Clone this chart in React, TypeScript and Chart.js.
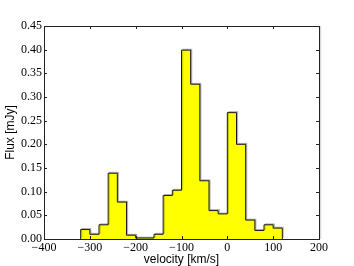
import React, { useEffect, useRef } from "react";
import { Chart, registerables } from "chart.js";

Chart.register(...registerables);

// Histogram bins (left edges, km/s) and flux per bin (mJy)
const binStart = -320;
const binWidth = 20;
const flux = [
  0.020, 0.010, 0.030, 0.139, 0.078, 0.008, 0.002, 0.002, 0.010, 0.092, 0.103,
  0.399, 0.327, 0.123, 0.060, 0.053, 0.267, 0.200, 0.040, 0.018, 0.030, 0.023,
];
const xTicks = [-400, -300, -200, -100, 0, 100, 200];
const yTicks = [0, 0.05, 0.1, 0.15, 0.2, 0.25, 0.3, 0.35, 0.4, 0.45];

const TICK_FONT = "Liberation Serif";
const LABEL_FONT = "Liberation Sans";

const framePlugin = {
  id: "frameTicks",
  beforeDatasetsDraw(chart: any) {
    const ctx = chart.ctx;
    ctx.save();
    ctx.shadowColor = "rgba(0,0,0,0.22)";
    ctx.shadowOffsetX = 1.2;
    ctx.shadowOffsetY = -1;
    ctx.shadowBlur = 0;
  },
  afterDatasetsDraw(chart: any) {
    chart.ctx.restore();
  },
  afterDraw(chart: any) {
    const { ctx, chartArea } = chart;
    const { left, right, top, bottom } = chartArea;
    const xs = chart.scales.x;
    const ys = chart.scales.y;
    ctx.save();
    // frame shadow
    ctx.strokeStyle = "rgba(0,0,0,0.15)";
    ctx.lineWidth = 1.5;
    ctx.beginPath();
    ctx.moveTo(right + 1.5, top);
    ctx.lineTo(right + 1.5, bottom);
    ctx.stroke();
    ctx.strokeStyle = "#222";
    ctx.lineWidth = 1;
    ctx.strokeRect(Math.round(left) + 0.5, Math.round(top) + 0.5, Math.round(right - left), Math.round(bottom - top));
    const L = 3;
    ctx.beginPath();
    for (const v of xTicks) {
      const px = Math.round(xs.getPixelForValue(v)) + 0.5;
      ctx.moveTo(px, bottom);
      ctx.lineTo(px, bottom - L);
      ctx.moveTo(px, top);
      ctx.lineTo(px, top + L);
    }
    for (const v of yTicks) {
      const py = Math.round(ys.getPixelForValue(v)) + 0.5;
      ctx.moveTo(left, py);
      ctx.lineTo(left + L, py);
      ctx.moveTo(right, py);
      ctx.lineTo(right - L, py);
    }
    ctx.stroke();
    ctx.restore();
  },
};

export default function App() {
  const ref = useRef<HTMLCanvasElement | null>(null);
  useEffect(() => {
    if (!ref.current) return;
    const pts: { x: number; y: number }[] = [{ x: binStart, y: 0 }];
    flux.forEach((v, i) => pts.push({ x: binStart + (i + 1) * binWidth, y: v }));
    pts.push({ x: binStart + flux.length * binWidth, y: 0 });

    const chart = new Chart(ref.current, {
      type: "line",
      data: {
        datasets: [
          {
            data: pts,
            stepped: "after",
            borderColor: "#1a1a1a",
            borderWidth: 1,
            backgroundColor: "#ffff00",
            fill: "origin",
            pointRadius: 0,
            tension: 0,
          },
        ],
      },
      plugins: [framePlugin],
      options: {
        animation: false,
        responsive: false,
        layout: { padding: { top: 26, right: 35, left: 0, bottom: 0 } },
        plugins: { legend: { display: false }, tooltip: { enabled: false } },
        scales: {
          x: {
            type: "linear",
            min: -400,
            max: 200,
            afterFit: (s: any) => {
              s.height = 27;
            },
            afterBuildTicks: (s: any) => {
              s.ticks = xTicks.map((v) => ({ value: v }));
            },
            grid: { display: false, drawTicks: false },
            border: { display: false },
            ticks: {
              padding: 2,
              color: "#000",
              font: { family: TICK_FONT, size: 12 },
              maxRotation: 0,
              autoSkip: false,
              callback: (v: any) => String(v).replace("-", "\u2212"),
            },
            title: {
              display: true,
              text: "velocity [km/s]",
              color: "#000",
              font: { family: LABEL_FONT, size: 12, lineHeight: 1 },
              padding: { top: 0, bottom: 0 },
            },
          },
          y: {
            min: 0,
            max: 0.45,
            afterFit: (s: any) => {
              s.width = 44;
            },
            afterBuildTicks: (s: any) => {
              s.ticks = yTicks.map((v) => ({ value: v }));
            },
            grid: { display: false, drawTicks: false },
            border: { display: false },
            ticks: {
              padding: 2,
              color: "#000",
              font: { family: TICK_FONT, size: 12 },
              autoSkip: false,
              callback: (v: any) => Number(v).toFixed(2),
            },
            title: {
              display: true,
              text: "Flux [mJy]",
              color: "#000",
              font: { family: LABEL_FONT, size: 12, lineHeight: 1 },
              padding: { top: 5, bottom: 0 },
            },
          },
        },
      },
    });
    return () => chart.destroy();
  }, []);
  return (
    <div style={{ position: "absolute", left: 0, top: 0, width: 354, height: 266, background: "#fff" }}>
      <canvas ref={ref} width={354} height={266} style={{ display: "block" }} />
    </div>
  );
}
